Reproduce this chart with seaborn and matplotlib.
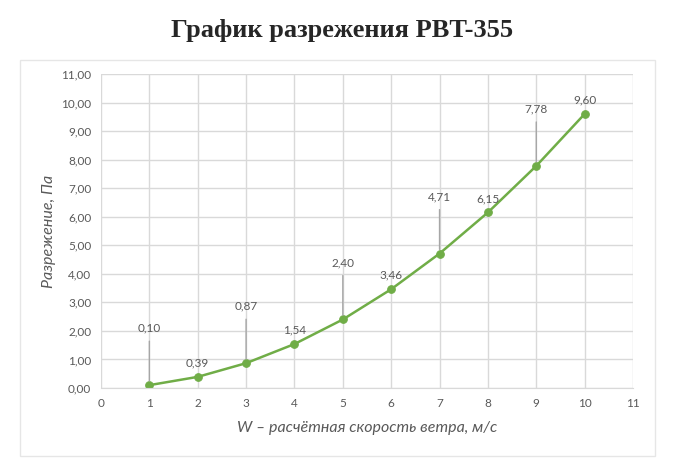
import numpy as np
import matplotlib
matplotlib.use('Agg')
import matplotlib.pyplot as plt
import seaborn as sb
from matplotlib.patches import Rectangle

# wind speed, m/s and rarefaction, Pa
speed = [1, 2, 3, 4, 5, 6, 7, 8, 9, 10]
pressure = [0.10, 0.39, 0.87, 1.54, 2.40, 3.46, 4.71, 6.15, 7.78, 9.60]
labels = ['0,10', '0,39', '0,87', '1,54', '2,40', '3,46', '4,71', '6,15', '7,78', '9,60']
leader = [True, False, True, False, True, False, True, False, True, False]

xticks = list(range(0, 12))
yticks = list(range(0, 12))

sb.set_style('white')
plt.rcParams['font.family'] = ['Lato', 'DejaVu Sans']

grey = '#595959'
green = '#70AD47'

fig = plt.figure(figsize=(6.92, 4.58), dpi=100)
fig.patches.append(Rectangle((20/692, 2/458), 635/692, 396/458, transform=fig.transFigure,
                             fill=False, edgecolor='#E6E6E6', lw=1))
ax = fig.add_axes([101/692, 1 - 388/458, 532/692, 314/458])

sb.lineplot(x=speed, y=pressure, ax=ax, color=green, lw=1.8, marker='o',
            markersize=5.5, markeredgecolor=green)

for x, y, t, lead in zip(speed, pressure, labels, leader):
    if lead:
        ax.annotate(t, xy=(x, y), xytext=(0, 37), textcoords='offset points',
                    ha='center', va='bottom', fontsize=8.5, color=grey,
                    arrowprops=dict(arrowstyle='-', color='#A6A6A6', lw=1,
                                    shrinkA=3, shrinkB=3))
    else:
        ax.annotate(t, xy=(x, y), xytext=(0, 6), textcoords='offset points',
                    ha='center', va='bottom', fontsize=8.5, color=grey)

ax.set_xlim(0, 11)
ax.set_ylim(0, 11)
ax.set_xticks(xticks)
ax.set_yticks(yticks)
ax.set_yticklabels(['%d,00' % v for v in yticks])
ax.grid(True, color='#D9D9D9', lw=1)
for s in ['top', 'right', 'left']:
    ax.spines[s].set_visible(False)
ax.spines['bottom'].set_color('#D9D9D9')
ax.tick_params(axis='both', labelsize=8.5, colors=grey, length=0, pad=7)

ax.set_xlabel('W – расчётная скорость ветра, м/с', fontsize=11.5, style='italic',
              color=grey, labelpad=9)
ax.set_ylabel('Разрежение, Па', fontsize=11.5, style='italic', color=grey, labelpad=4)

fig.text(0.495, 1 - 30/458, 'График разрежения PBT-355', ha='center', va='center',
         fontsize=19, fontweight='bold', family='Liberation Serif')

plt.savefig('out.png', dpi=100)
